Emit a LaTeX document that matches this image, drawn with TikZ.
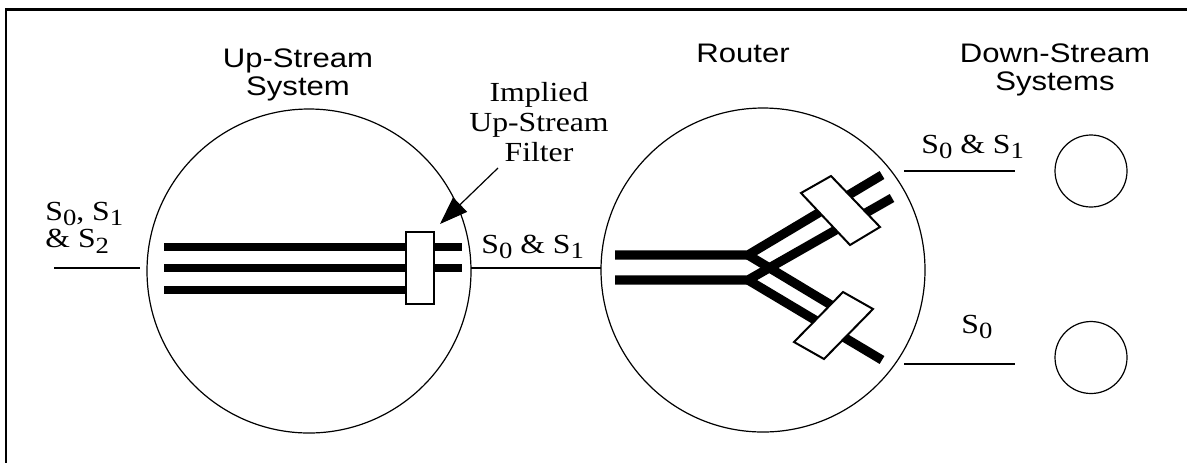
\documentclass[tikz,border=0pt]{standalone}
\usepackage{fontspec}
\setmainfont{Liberation Serif}[FakeStretch=1.15]
\newfontfamily\hvfont{Liberation Sans}[FakeStretch=1.16]
\usetikzlibrary{arrows.meta}
% lowered subscript in the text font (no depth, so stacked lines keep their spacing)
\newcommand\sbs[1]{\raisebox{-0.21em}[0.5em][0pt]{\fontsize{11.6}{11.6}\selectfont #1}}

\begin{document}
\begin{tikzpicture}[x=0.5pt,y=-0.5pt,
  thin line/.style={line width=0.6pt},
  frame line/.style={line width=1.35pt},
  ubar/.style={line width=3.6pt},
  rbar/.style={line width=4.6pt},
  filterbox/.style={draw,fill=white,line width=1pt},
  system/.style={circle,draw,thin line,inner sep=0pt},
  hv/.style={font=\hvfont\fontsize{13.4}{14}\selectfont,align=center,inner sep=0pt,anchor=base},
  tm/.style={font=\fontsize{13.8}{15}\selectfont,inner sep=0pt,anchor=base},
]
\useasboundingbox (0,0) rectangle (1187,462);

% outer frame
\draw[frame line] (6,470) -- (6,9.5) -- (1195,9.5);

% systems
\node[system,minimum size=162pt] (up) at (309,271) {};
\node[system,minimum size=162pt] (rt) at (763,270) {};
\node[system,minimum size=36pt] (d1) at (1091,171) {};
\node[system,minimum size=36pt] (d2) at (1091,357.5) {};

% titles (multi-line nodes sit on the baseline of their last line)
\node[hv] (uptitle) at (298,95) {Up-Stream\\System};
\node[hv] (rttitle) at (743,62) {Router};
\node[hv] (dntitle) at (1055,90) {Down-Stream\\Systems};

% stream lines between systems
\coordinate (in1) at (54,268);
\coordinate (in2) at (140,268);
\coordinate (m1) at (471,268);
\coordinate (m2) at (601,268);
\coordinate (o1a) at (904,171);
\coordinate (o1b) at (1015,171);
\coordinate (o2a) at (904,364);
\coordinate (o2b) at (1015,364);
\draw[thin line] (in1) -- (in2);
\draw[thin line] (m1) -- (m2);
\draw[thin line] (o1a) -- (o1b);
\draw[thin line] (o2a) -- (o2b);

% stream labels
\node[tm,anchor=base west] (lin1) at (45,220) {S\sbs{0}, S\sbs{1}};
\node[tm,anchor=base west] (lin2) at (45,247.7) {\& S\sbs{2}};
\node[tm,anchor=base west] (lmid) at (481,253) {S\sbs{0} \& S\sbs{1}};
\node[tm,anchor=base west] (lo1) at (921,153) {S\sbs{0} \& S\sbs{1}};
\node[tm,anchor=base west] (lo2) at (961,333) {S\sbs{0}};

% up-stream system: three streams and the implied filter
\draw[ubar] (164,247) -- (462,247);
\draw[ubar] (164,268) -- (462,268);
\draw[ubar] (164,290) -- (410,290);
\node[filterbox,minimum width=14pt,minimum height=36pt,inner sep=0pt] (uf) at (420,268) {};

\node[tm,align=center] (flabel) at (539,161.7) {Implied\\Up-Stream\\Filter};
\coordinate (atail) at (498,168);
\coordinate (atip) at (440,224);
\draw[thin line,-{Triangle[length=14pt,width=10pt]}] (atail) -- (atip);

% router: two streams split towards the two outputs
\draw[rbar] (615,255) -- (748,255) -- (882,175);
\draw[rbar] (615,280) -- (748,280) -- (892,198);
\draw[rbar] (748,255) -- (846,314);
\draw[rbar] (748,280) -- (882,360);

% router filters
\draw[filterbox] (801,193) -- (831,176) -- (880,227) -- (850,245) -- cycle;
\draw[filterbox] (794,342) -- (843,292) -- (873,309) -- (824,359) -- cycle;
\end{tikzpicture}
\end{document}
